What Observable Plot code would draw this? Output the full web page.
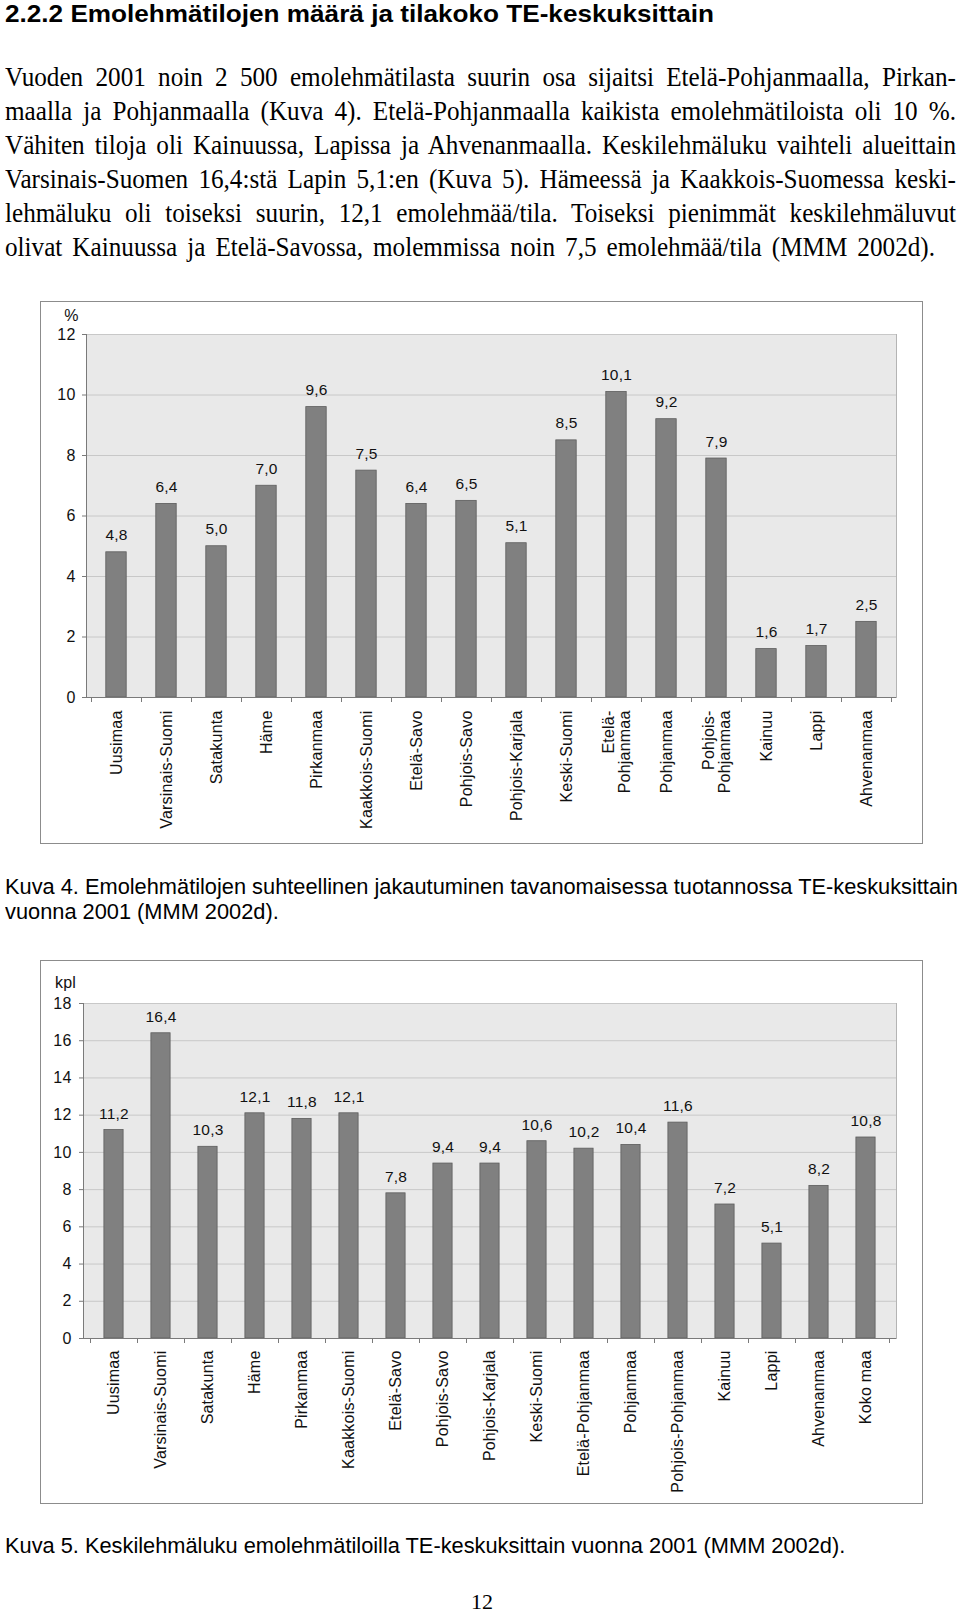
<!DOCTYPE html>
<html><head><meta charset="utf-8">
<script src="https://cdn.jsdelivr.net/npm/d3@7"></script>
<script src="https://cdn.jsdelivr.net/npm/@observablehq/plot@0.6"></script>
<style>
html,body{margin:0;padding:0}
body{width:960px;height:1611px;position:relative;background:#fff;overflow:hidden;color:#000}
.ln{position:absolute;left:5px;white-space:nowrap;line-height:1;transform-origin:0 0}
.serif{font-family:"Liberation Serif","Times New Roman",serif}
.sans{font-family:"Liberation Sans",Arial,Helvetica,sans-serif}
.chartbox{position:absolute;border:1px solid #8c8c8c;background:#fff}
.chartbox svg{display:block}
.chartbox svg text{letter-spacing:0.2px}
</style></head><body>
<div id="page"></div>
<script>
// ---------- data ----------
const headingText = "2.2.2 Emolehmätilojen määrä ja tilakoko TE-keskuksittain";
const bodyLines = [
  "Vuoden 2001 noin 2 500 emolehmätilasta suurin osa sijaitsi Etelä-Pohjanmaalla, Pirkan-",
  "maalla ja Pohjanmaalla (Kuva 4). Etelä-Pohjanmaalla kaikista emolehmätiloista oli 10 %.",
  "Vähiten tiloja oli Kainuussa, Lapissa ja Ahvenanmaalla. Keskilehmäluku vaihteli alueittain",
  "Varsinais-Suomen 16,4:stä Lapin 5,1:en (Kuva 5). Hämeessä ja Kaakkois-Suomessa keski-",
  "lehmäluku oli toiseksi suurin, 12,1 emolehmää/tila. Toiseksi pienimmät keskilehmäluvut",
  "olivat Kainuussa ja Etelä-Savossa, molemmissa noin 7,5 emolehmää/tila (MMM 2002d)."
];
const caption4 = [
  "Kuva 4. Emolehmätilojen suhteellinen jakautuminen tavanomaisessa tuotannossa TE-keskuksittain",
  "vuonna 2001 (MMM 2002d)."
];
const caption5 = "Kuva 5. Keskilehmäluku emolehmätiloilla TE-keskuksittain vuonna 2001 (MMM 2002d).";
const pageNumber = "12";

const regions4 = ["Uusimaa","Varsinais-Suomi","Satakunta","Häme","Pirkanmaa","Kaakkois-Suomi","Etelä-Savo",
  "Pohjois-Savo","Pohjois-Karjala","Keski-Suomi","Etelä-\nPohjanmaa","Pohjanmaa","Pohjois-\nPohjanmaa",
  "Kainuu","Lappi","Ahvenanmaa"];
const share4 = [4.8,6.4,5.0,7.0,9.6,7.5,6.4,6.5,5.1,8.5,10.1,9.2,7.9,1.6,1.7,2.5];
const ticks4 = [0,2,4,6,8,10,12];
const unit4 = "%";

const regions5 = ["Uusimaa","Varsinais-Suomi","Satakunta","Häme","Pirkanmaa","Kaakkois-Suomi","Etelä-Savo",
  "Pohjois-Savo","Pohjois-Karjala","Keski-Suomi","Etelä-Pohjanmaa","Pohjanmaa","Pohjois-Pohjanmaa",
  "Kainuu","Lappi","Ahvenanmaa","Koko maa"];
const cows5 = [11.2,16.4,10.3,12.1,11.8,12.1,7.8,9.4,9.4,10.6,10.2,10.4,11.6,7.2,5.1,8.2,10.8];
const ticks5 = [0,2,4,6,8,10,12,14,16,18];
const unit5 = "kpl";

// ---------- helpers ----------
const page = document.getElementById("page");
const fmt = v => v.toFixed(1).replace(".", ",");

function addLine(text, cls, size, top, opts = {}) {
  const el = document.createElement("div");
  el.className = "ln " + cls;
  el.style.fontSize = size + "px";
  el.style.top = top + "px";
  if (opts.bold) el.style.fontWeight = "bold";
  if (opts.lh != null) el.style.lineHeight = opts.lh;
  if (opts.left != null) el.style.left = opts.left + "px";
  el.textContent = text;
  page.appendChild(el);
  el.style.display = "inline-block";
  return el;
}
// squeeze horizontally by s, then justify to target with word spacing
function fitLine(el, target, s) {
  const w = el.getBoundingClientRect().width;
  const spaces = (el.textContent.match(/ /g) || []).length;
  if (spaces && w * s < target) {
    el.style.wordSpacing = ((target / s - w) / spaces) + "px";
    el.style.transform = "scaleX(" + s + ")";
  } else {
    el.style.transform = "scaleX(" + (target / w) + ")";
  }
}
function scaleTo(el, target) {
  const w = el.getBoundingClientRect().width;
  el.style.transform = "scaleX(" + (target / w) + ")";
  return target / w;
}

// heading
scaleTo(addLine(headingText, "sans", 24, 2, {bold: true}), 709);
// body
const bodyTops = [64, 98, 132, 166, 200, 234];
const bodyWidths = [951, 951, 951, 951, 951, 930];
bodyLines.forEach((t, i) => fitLine(addLine(t, "serif", 26.5, bodyTops[i]), bodyWidths[i], 0.95));

// ---------- charts ----------
function boundaryTicks(cats, color) {
  return (index, scales, values, dims) => {
    const x = scales.x;
    const step = typeof x.step === "function" ? x.step() : (dims.width - dims.marginLeft - dims.marginRight) / cats.length;
    const x0 = dims.marginLeft, x1 = dims.width - dims.marginRight;
    const yb = dims.height - dims.marginBottom, yt = dims.marginTop;
    const g = d3.create("svg:g").attr("stroke", color).attr("fill", "none").attr("stroke-width", 1);
    g.append("line").attr("x1", x0 + 0.5).attr("x2", x0 + 0.5).attr("y1", yt).attr("y2", yb + 0.5);
    g.append("line").attr("x1", x0).attr("x2", x1).attr("y1", yb + 0.5).attr("y2", yb + 0.5);
    const edges = cats.map(c => x(c)).concat([x(cats[cats.length - 1]) + step]);
    edges.forEach(px => {
      g.append("line").attr("x1", Math.round(px) + 0.5).attr("x2", Math.round(px) + 0.5)
        .attr("y1", yb).attr("y2", yb + 5);
    });
    return g.node();
  };
}

function barChart(o) {
  const data = o.cats.map((c, i) => ({c, v: o.vals[i]}));
  return Plot.plot({
    width: o.width, height: o.height,
    marginLeft: o.ml, marginRight: o.mr, marginTop: o.mt, marginBottom: o.mb,
    style: {fontFamily: "Liberation Sans, Arial, Helvetica, sans-serif", fontSize: "16px", color: "#000", background: "transparent", overflow: "visible"},
    x: {domain: o.cats, padding: 0, label: null},
    y: {domain: [0, o.ticks[o.ticks.length - 1]], label: null},
    marks: [
      Plot.frame({fill: "#e9e9e9", stroke: "#b4b4b4"}),
      Plot.gridY(o.ticks, {stroke: "#c8c8c8", strokeOpacity: 1}),
      Plot.barY(data, {x: "c", y: "v", fill: "#808080", stroke: "#5c5c5c", strokeWidth: 0.8, insetLeft: o.inset, insetRight: o.inset}),
      Plot.text(data, {x: "c", y: "v", text: d => fmt(d.v), lineAnchor: "bottom", dy: o.labelDy, fill: "#111", fontSize: 15.5}),
      Plot.axisY(o.ticks, {tickSize: 4, tickPadding: o.tickPad, stroke: "#7a7a7a", fontSize: 16, fill: "#111", tickFormat: d => String(d)}),
      Plot.axisX({tickSize: 0, tickRotate: -90, tickPadding: o.xPad, fontSize: 16, fill: "#111", lineHeight: 1.0}),
      boundaryTicks(o.cats, "#7a7a7a"),
      Plot.text([o.unit], {frameAnchor: "top-left", dx: o.unitDx, dy: o.unitDy, textAnchor: "middle", lineAnchor: "middle", fontSize: 16, fill: "#111"})
    ]
  });
}

function placeChart(svg, left, top, w, h) {
  const box = document.createElement("div");
  box.className = "chartbox";
  box.style.left = (left - 1) + "px";
  box.style.top = (top - 1) + "px";
  box.style.width = w + "px";
  box.style.height = h + "px";
  box.appendChild(svg);
  page.appendChild(box);
}

placeChart(barChart({
  cats: regions4, vals: share4, ticks: ticks4, unit: unit4,
  width: 881, height: 541, ml: 45, mr: 26, mt: 32, mb: 146,
  inset: 14.8, tickPad: 7, xPad: 13, unitDx: -15, unitDy: -19, labelDy: -12
}), 41, 302, 881, 541);

// caption 4
const s4 = scaleTo(addLine(caption4[0], "sans", 21.5, 876.5), 953);
const c4b = addLine(caption4[1], "sans", 21.5, 901.5);
c4b.style.transform = "scaleX(" + s4 + ")";

placeChart(barChart({
  cats: regions5, vals: cows5, ticks: ticks5, unit: unit5,
  width: 881, height: 542, ml: 42, mr: 26, mt: 42, mb: 165,
  inset: 13.9, tickPad: 8, xPad: 12, unitDx: -18, unitDy: -21, labelDy: -11.5
}), 41, 961, 881, 542);

// caption 5
const c5 = addLine(caption5, "sans", 21.5, 1536);
c5.style.transform = "scaleX(" + s4 + ")";

// page number
addLine(pageNumber, "serif", 22, 1592.5, {lh: 0.8, left: 471});
</script>
</body></html>
